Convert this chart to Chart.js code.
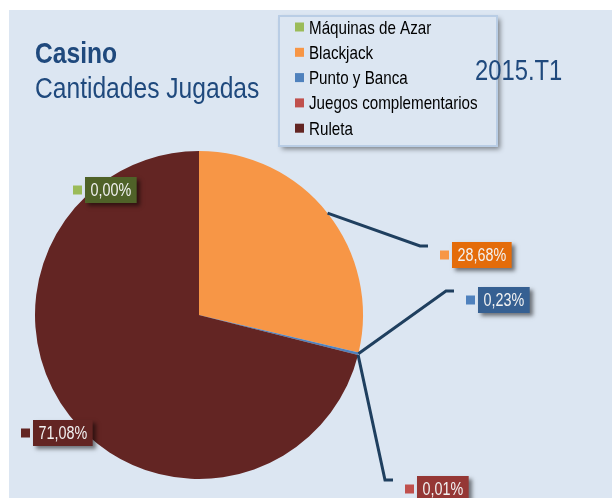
<!DOCTYPE html>
<html>
<head>
<meta charset="utf-8">
<script src="https://cdn.jsdelivr.net/npm/chart.js@4"></script>
<style>
  html, body { margin: 0; padding: 0; background: #ffffff; }
  canvas { display: block; }
</style>
</head>
<body>
<canvas id="casinoPie" width="612" height="498"></canvas>
<script>
// datos
const categorias = ['Máquinas de Azar', 'Blackjack', 'Punto y Banca', 'Juegos complementarios', 'Ruleta'];
const porcentajes = [0.00, 28.68, 0.23, 0.01, 71.08];
const titulo = 'Casino';
const subtitulo = 'Cantidades Jugadas';
const periodo = '2015.T1';

// estilos
const coloresSector = ['#9bbb59', '#f79646', '#4f81bd', '#c0504d', '#632523'];
const coloresEtiqueta = ['#4f6228', '#e46c0a', '#366092', '#953735', '#632523'];
// caja de etiqueta (izq, arriba) y si lleva linea guia
const posEtiqueta = [
    { x: 85, y: 177, linea: false },
    { x: 452, y: 242, linea: true },
    { x: 478, y: 287, linea: true },
    { x: 417, y: 476, linea: true },
    { x: 33, y: 420, linea: false }
];

const FONDO = '#dce6f2';
const AZUL_TITULO = '#1f497d';
const NARROW = 0.82;

function narrowText(ctx, text, x, y, size, weight, color) {
    ctx.save();
    ctx.font = (weight || 'normal') + ' ' + size + 'px "Liberation Sans", Arial, sans-serif';
    ctx.fillStyle = color;
    ctx.textBaseline = 'alphabetic';
    ctx.textAlign = 'left';
    ctx.translate(x, y);
    ctx.scale(NARROW, 1);
    ctx.fillText(text, 0, 0);
    ctx.restore();
}

function narrowWidth(ctx, text, size, weight) {
    ctx.save();
    ctx.font = (weight || 'normal') + ' ' + size + 'px "Liberation Sans", Arial, sans-serif';
    const w = ctx.measureText(text).width * NARROW;
    ctx.restore();
    return w;
}

const fondoPlugin = {
    id: 'fondo',
    beforeDraw: chart => {
        const ctx = chart.ctx;
        ctx.save();
        ctx.fillStyle = '#ffffff';
        ctx.fillRect(0, 0, chart.width, chart.height);
        ctx.fillStyle = FONDO;
        ctx.fillRect(9, 10, chart.width - 9, chart.height - 10);
        ctx.restore();
    }
};

const textosPlugin = {
    id: 'textos',
    afterDraw: chart => {
        const ctx = chart.ctx;
        narrowText(ctx, titulo, 35, 63, 30, 'bold', AZUL_TITULO);
        narrowText(ctx, subtitulo, 35, 98, 30, 'normal', AZUL_TITULO);

        // leyenda
        ctx.save();
        ctx.shadowColor = 'rgba(0,0,0,0.45)';
        ctx.shadowBlur = 5;
        ctx.shadowOffsetX = 3;
        ctx.shadowOffsetY = 3;
        ctx.fillStyle = FONDO;
        ctx.fillRect(279, 16, 218, 130);
        ctx.restore();
        ctx.save();
        ctx.strokeStyle = '#b9cde5';
        ctx.lineWidth = 2;
        ctx.strokeRect(279, 16, 218, 130);
        ctx.restore();
        categorias.forEach((cat, i) => {
            const cy = 27 + i * 25.3;
            ctx.fillStyle = coloresSector[i];
            ctx.fillRect(295, cy - 4.5, 9, 9);
            narrowText(ctx, cat, 309, cy + 6.5, 18.5, 'normal', '#000000');
        });

        // periodo, por encima de la leyenda
        narrowText(ctx, periodo, 475, 80, 29, 'normal', AZUL_TITULO);

        // lineas guia y etiquetas
        const meta = chart.getDatasetMeta(0);
        meta.data.forEach((arc, i) => {
            const p = arc.getProps(['x', 'y', 'startAngle', 'endAngle', 'outerRadius'], true);
            const pos = posEtiqueta[i];
            const txt = porcentajes[i].toFixed(2).replace('.', ',') + '%';

            if (pos.linea) {
                const mid = (p.startAngle + p.endAngle) / 2;
                const ax = p.x + Math.cos(mid) * p.outerRadius;
                const ay = p.y + Math.sin(mid) * p.outerRadius;
                const ex = pos.x - 24;
                const ey = pos.y + 4;
                ctx.save();
                ctx.strokeStyle = '#1f3f5f';
                ctx.lineWidth = 3;
                ctx.lineJoin = 'miter';
                ctx.beginPath();
                ctx.moveTo(ax, ay);
                ctx.lineTo(ex - 8, ey);
                ctx.lineTo(ex, ey);
                ctx.stroke();
                ctx.restore();
            }

            const tw = narrowWidth(ctx, txt, 17.5);
            const bw = tw + 11;
            const bh = 26;
            ctx.save();
            ctx.shadowColor = 'rgba(0,0,0,0.5)';
            ctx.shadowBlur = 4;
            ctx.shadowOffsetX = 3;
            ctx.shadowOffsetY = 3;
            ctx.fillStyle = coloresEtiqueta[i];
            ctx.fillRect(pos.x, pos.y, bw, bh);
            ctx.restore();
            ctx.fillStyle = coloresSector[i];
            ctx.fillRect(pos.x - 12, pos.y + bh / 2 - 4.5, 9, 9);
            narrowText(ctx, txt, pos.x + 5.5, pos.y + 19, 17.5, 'normal', '#f2f2f2');
        });
    }
};

new Chart(document.getElementById('casinoPie').getContext('2d'), {
    type: 'pie',
    data: {
        labels: categorias,
        datasets: [{
            data: porcentajes,
            backgroundColor: coloresSector,
            borderWidth: 0
        }]
    },
    options: {
        responsive: false,
        animation: false,
        layout: { padding: { left: 35, right: 249, top: 151, bottom: 19 } },
        plugins: {
            legend: { display: false },
            tooltip: { enabled: false },
            title: { display: false }
        }
    },
    plugins: [fondoPlugin, textosPlugin]
});
</script>
</body>
</html>
